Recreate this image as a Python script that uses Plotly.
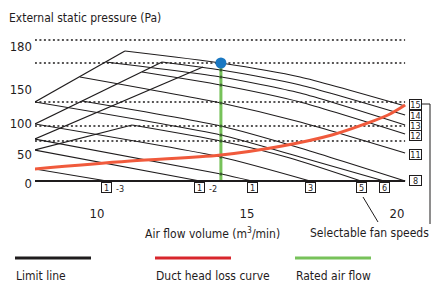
import plotly.graph_objects as go

# ---------------- data (x: air flow m3/min, y: chart pressure units) ----------------
curve_names = ["15", "14", "13", "12", "11", "8", "6", "5", "3", "1", "1-2", "1-3"]
curve_q = [
    [10.93, 14.13, 16.77, 20.27],
    [12.17, 14.13, 16.77, 20.27],
    [10.30, 14.13, 16.77, 20.27],
    [11.50, 14.13, 16.77, 20.27],
    [9.43, 14.13, 16.77, 20.27],
    [9.50, 14.13, 16.77, 20.27],
    [7.93, 14.13, 16.77, 19.57],
    [11.17, 14.13, 16.43, 18.80],
    [7.93, 14.13, 17.10],
    [7.93, 14.13, 15.17],
    [7.93, 13.43],
    [7.93, 10.33],
]
curve_p = [
    [130, 118, 104, 75],
    [119, 111, 96, 66],
    [119, 104, 88, 56],
    [109, 96, 79, 47],
    [104, 78, 59, 28],
    [80, 55, 33, 0],
    [79, 46, 24, 0],
    [56, 40, 23, 0],
    [57, 24, 0],
    [42, 7, 0],
    [31, 0],
    [12, 0],
]
limit_q = [[7.93, 10.93], [7.93, 12.17], [7.93, 13.53], [7.93, 11.17]]
limit_p = [[79, 130], [57, 119], [42, 114], [31, 56]]

duct_q = [7.90, 11.10, 14.13, 16.17, 17.83, 18.93, 19.70, 20.27]
duct_p = [12, 20, 26, 35, 46, 57, 66, 76]

rated_q = 14.13
rated_top = 122
rated_point_p = 118
dotted_levels = [141, 118, 79, 55, 40]

q_min, q_max = 7.93, 20.27
x_ticks = [10, 15, 20]
y_tick_pos = [135, 92, 58, 27, -2]
y_tick_text = ["180", "150", "100", "50", "0"]

right_labels = ["15", "14", "13", "12", "11", "8"]
right_label_p = [77, 66, 56, 46, 27, 1]
bottom_labels = ["1", "1", "1", "3", "5", "6"]
bottom_suffix = ["-3", "-2", "", "", "", ""]
bottom_label_q = [10.33, 13.43, 15.17, 17.10, 18.80, 19.57]

# ---------------- figure ----------------
FONT = "DejaVu Sans Condensed, DejaVu Sans, sans-serif"
INK = "#1f1c1d"
fig = go.Figure()

for lv in dotted_levels:
    fig.add_trace(go.Scatter(x=[q_min, q_max], y=[lv, lv], mode="lines",
                             line=dict(color=INK, width=1.5, dash="2px,2.5px"),
                             hoverinfo="skip", showlegend=False))

for q, p in zip(limit_q, limit_p):
    fig.add_trace(go.Scatter(x=q, y=p, mode="lines", line=dict(color=INK, width=1.2),
                             hoverinfo="skip", showlegend=False))

for name, q, p in zip(curve_names, curve_q, curve_p):
    fig.add_trace(go.Scatter(x=q, y=p, mode="lines", name=name,
                             line=dict(color=INK, width=1.2, shape="spline", smoothing=0.6),
                             showlegend=False, cliponaxis=False))

fig.add_trace(go.Scatter(x=[rated_q, rated_q], y=[0, rated_top], mode="lines",
                         line=dict(color="#77c25a", width=3), showlegend=False))

cross_p = [p[1] for q, p in zip(curve_q, curve_p) if len(q) > 1 and q[1] == rated_q]
fig.add_trace(go.Scatter(x=[rated_q] * len(cross_p), y=cross_p, mode="markers",
                         marker=dict(color="#3b5a30", size=3), showlegend=False))

fig.add_trace(go.Scatter(x=duct_q, y=duct_p, mode="lines",
                         line=dict(color="#f05a3c", width=3, shape="spline"),
                         showlegend=False, cliponaxis=False))
fig.add_trace(go.Scatter(x=[duct_q[0]], y=[duct_p[0]], mode="markers",
                         marker=dict(color="#f05a3c", size=11), showlegend=False,
                         cliponaxis=False))

fig.add_trace(go.Scatter(x=[rated_q], y=[rated_point_p], mode="markers",
                         marker=dict(color="#1a78c2", size=11), showlegend=False,
                         cliponaxis=False))

fig.add_trace(go.Scatter(x=[q_min, q_max], y=[0, 0], mode="lines",
                         line=dict(color=INK, width=2), showlegend=False, cliponaxis=False))

PX0, PX1, PY0, PY1 = 35, 430, 30, 185


def px(x):
    return (x - PX0) / (PX1 - PX0)


def py(y):
    return (PY1 - y) / (PY1 - PY0)


annotations = []
for t, p in zip(right_labels, right_label_p):
    annotations.append(dict(x=20.63, y=p, xref="x", yref="y", text=t, showarrow=False,
                            font=dict(family=FONT, size=9, color=INK),
                            bordercolor=INK, borderwidth=1, borderpad=0,
                            bgcolor="white", width=11, height=9))
for t, s, q in zip(bottom_labels, bottom_suffix, bottom_label_q):
    annotations.append(dict(x=q, y=py(182), xref="x", yref="paper", text=t, showarrow=False,
                            yanchor="top",
                            font=dict(family=FONT, size=9, color=INK),
                            bordercolor=INK, borderwidth=1, borderpad=0,
                            bgcolor="white", width=9, height=9))
    if s:
        annotations.append(dict(x=q, y=py(182), xref="x", yref="paper", text=s,
                                showarrow=False, xanchor="left", yanchor="top", xshift=7,
                                font=dict(family=FONT, size=9, color=INK)))

annotations.append(dict(x=px(7), y=py(18), xref="paper", yref="paper",
                        text="External static pressure (Pa)", showarrow=False,
                        xanchor="left", yanchor="middle",
                        font=dict(family=FONT, size=12, color=INK)))
annotations.append(dict(x=px(212), y=py(233), xref="paper", yref="paper",
                        text="Air flow volume (m<sup>3</sup>/min)", showarrow=False,
                        xanchor="center", yanchor="middle",
                        font=dict(family=FONT, size=12, color=INK)))
annotations.append(dict(x=px(431), y=py(233), xref="paper", yref="paper",
                        text="Selectable fan speeds", showarrow=False,
                        xanchor="right", yanchor="middle",
                        font=dict(family=FONT, size=12, color=INK)))

legend_items = [("Limit line", INK, 15), ("Duct head loss curve", "#d8262c", 155),
                ("Rated air flow", "#77c25a", 295)]
shapes = []
for text, col, x0 in legend_items:
    shapes.append(dict(type="line", xref="paper", yref="paper", x0=px(x0), x1=px(x0 + 76),
                       y0=py(258), y1=py(258), line=dict(color=col, width=3)))
    annotations.append(dict(x=px(x0 - 1), y=py(276), xref="paper", yref="paper", text=text,
                            showarrow=False, xanchor="left", yanchor="middle",
                            font=dict(family=FONT, size=12, color=INK)))

shapes.append(dict(type="line", xref="paper", yref="paper", x0=px(422), x1=px(430),
                   y0=py(104), y1=py(104), line=dict(color=INK, width=1)))
shapes.append(dict(type="line", xref="paper", yref="paper", x0=px(430), x1=px(430),
                   y0=py(104), y1=py(224), line=dict(color=INK, width=1)))
shapes.append(dict(type="line", xref="paper", yref="paper", x0=px(363), x1=px(378),
                   y0=py(197), y1=py(222), line=dict(color=INK, width=1)))

fig.update_layout(
    width=432, height=284,
    margin=dict(l=PX0, r=432 - PX1, t=PY0, b=284 - PY1, autoexpand=False),
    paper_bgcolor="white", plot_bgcolor="white",
    font=dict(family=FONT, color=INK),
    xaxis=dict(range=[7.933, 7.933 + 395 / 30], tickvals=x_ticks, ticks="",
               showgrid=False, zeroline=False, showline=False, automargin=False,
               ticklabelstandoff=19, tickfont=dict(size=13, family=FONT, color=INK)),
    yaxis=dict(range=[-4, 151], tickvals=y_tick_pos, ticktext=y_tick_text, ticks="",
               showgrid=False, zeroline=False, showline=False, automargin=False,
               ticklabelstandoff=2, tickfont=dict(size=13, family=FONT, color=INK)),
    annotations=annotations, shapes=shapes,
)

fig.write_html("out.html", config={"displayModeBar": False, "staticPlot": True},
               post_script="document.body.style.margin='0';")
